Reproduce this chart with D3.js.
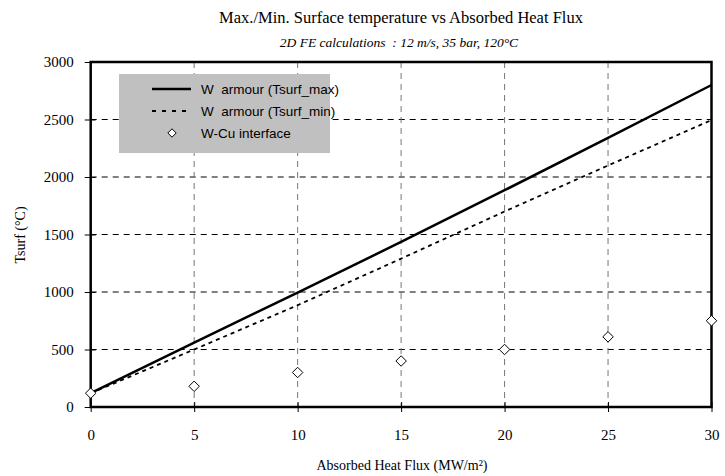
<!DOCTYPE html>
<html><head><meta charset="utf-8">
<script src="https://cdn.jsdelivr.net/npm/d3@7/dist/d3.min.js"></script>
<style>body{margin:0;background:#fff}svg{display:block}text{white-space:pre}</style>
</head><body>
<svg id="c" width="725" height="476"></svg>
<script>
const flux = [0, 5, 10, 15, 20, 25, 30];
const tsurfMax = [120, 560, 995, 1435, 1885, 2340, 2800];
const tsurfMin = [120, 500, 885, 1290, 1700, 2100, 2495];
const wcuInterface = [120, 180, 300, 400, 500, 610, 750];
const xTicks = [0, 5, 10, 15, 20, 25, 30];
const yTicks = [0, 500, 1000, 1500, 2000, 2500, 3000];
const legendLabels = ["W  armour (Tsurf_max)", "W  armour (Tsurf_min)", "W-Cu interface"];

const svg = d3.select("#c");
const L = 90.7, R = 711.5, T = 62, B = 407;
const x = d3.scaleLinear().domain([0, 30]).range([L, R]);
const y = d3.scaleLinear().domain([0, 3000]).range([B, T]);
const serif = "'Liberation Serif','Times New Roman',serif";
const sans = "'Liberation Sans',Arial,sans-serif";

// gridlines
svg.append("g").selectAll("line").data(yTicks.filter(d => d > 0 && d < 3000)).join("line")
  .attr("x1", L).attr("x2", R).attr("y1", d => y(d)).attr("y2", d => y(d))
  .attr("stroke", "#000").attr("stroke-width", 1).attr("stroke-dasharray", "6,5");
svg.append("g").selectAll("line").data(xTicks.filter(d => d > 0 && d < 30)).join("line")
  .attr("y1", T).attr("y2", B).attr("x1", d => x(d)).attr("x2", d => x(d))
  .attr("stroke", "#777").attr("stroke-width", 1).attr("stroke-dasharray", "6,5");

// axes (ticks crossing the axis line)
const xa = svg.append("g").attr("transform", `translate(0,${B})`)
  .call(d3.axisBottom(x).tickValues(xTicks).tickSize(5).tickPadding(17).tickFormat(d3.format("d")));
const ya = svg.append("g").attr("transform", `translate(${L},0)`)
  .call(d3.axisLeft(y).tickValues(yTicks).tickSize(6).tickPadding(11).tickFormat(d3.format("d")));
xa.selectAll(".tick line").attr("y1", -5).attr("y2", 5);
ya.selectAll(".tick line").attr("x1", 5).attr("x2", -6);
[xa, ya].forEach(a => {
  a.select(".domain").remove();
  a.selectAll("text").attr("font-family", serif).attr("font-size", 15).attr("fill", "#000");
  a.selectAll("line").attr("stroke", "#000").attr("stroke-width", 1);
});

// legend box
const lg = svg.append("g");
lg.append("rect").attr("x", 119).attr("y", 74).attr("width", 211).attr("height", 79).attr("fill", "#c0c0c0");

// series
const line = d3.line().x((d, i) => x(flux[i])).y(d => y(d));
svg.append("path").datum(tsurfMax).attr("d", line).attr("fill", "none")
  .attr("stroke", "#000").attr("stroke-width", 2.5);
svg.append("path").datum(tsurfMin).attr("d", line).attr("fill", "none")
  .attr("stroke", "#000").attr("stroke-width", 1.8).attr("stroke-dasharray", "4,4");

// plot border
svg.append("rect").attr("x", L).attr("y", T).attr("width", R - L).attr("height", B - T)
  .attr("fill", "none").attr("stroke", "#000").attr("stroke-width", 2.5);

const diamond = d3.symbol().type(d3.symbolDiamond2).size(70);
svg.append("g").selectAll("path").data(wcuInterface).join("path")
  .attr("transform", (d, i) => `translate(${x(flux[i])},${y(d)})`)
  .attr("d", diamond).attr("fill", "#fff").attr("stroke", "#000").attr("stroke-width", 1);

// legend items
lg.append("line").attr("x1", 152).attr("x2", 191).attr("y1", 89).attr("y2", 89).attr("stroke", "#000").attr("stroke-width", 2.5);
lg.append("line").attr("x1", 152).attr("x2", 191).attr("y1", 111).attr("y2", 111).attr("stroke", "#000").attr("stroke-width", 1.8).attr("stroke-dasharray", "4,6");
lg.append("path").attr("transform", "translate(172,133)").attr("d", d3.symbol().type(d3.symbolDiamond2).size(45))
  .attr("fill", "#fff").attr("stroke", "#000").attr("stroke-width", 1);
lg.selectAll("text").data(legendLabels).join("text")
  .attr("x", 201).attr("y", (d, i) => 94 + i * 22).text(d => d)
  .attr("font-family", sans).attr("font-size", 13.5).attr("fill", "#000");

// titles
svg.append("text").attr("x", 401).attr("y", 23).attr("text-anchor", "middle")
  .attr("font-family", serif).attr("font-size", 16.5).text("Max./Min. Surface temperature vs Absorbed Heat Flux");
svg.append("text").attr("x", 399).attr("y", 47).attr("text-anchor", "middle")
  .attr("font-family", serif).attr("font-size", 13.5).attr("font-style", "italic")
  .text("2D FE calculations  : 12 m/s, 35 bar, 120°C");
svg.append("text").attr("x", 402).attr("y", 470).attr("text-anchor", "middle")
  .attr("font-family", serif).attr("font-size", 14).text("Absorbed Heat Flux (MW/m²)");
svg.append("text").attr("transform", "translate(25,235) rotate(-90)").attr("text-anchor", "middle")
  .attr("font-family", serif).attr("font-size", 14).text("Tsurf (°C)");
</script>
</body></html>
